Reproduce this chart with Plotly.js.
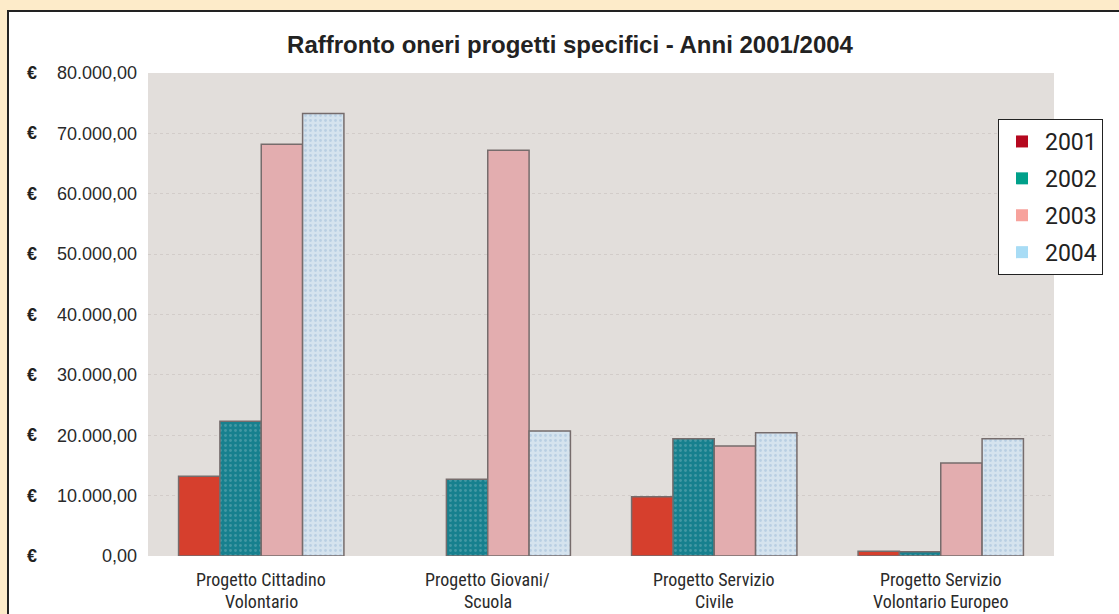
<!DOCTYPE html>
<html>
<head>
<meta charset="utf-8">
<script src="https://cdn.plot.ly/plotly-3.0.1.min.js"></script>
<style>
  html, body { margin: 0; padding: 0; background: #fdebc9; width: 1119px; height: 614px; overflow: hidden; }
  #chart { position: absolute; left: 7px; top: 10px; width: 1130px; height: 620px;
           border-left: 2px solid #222; border-top: 2px solid #222; background: #fff; overflow: hidden; }
</style>
</head>
<body>
<div id="chart"></div>
<script>
const categories = [
  "Progetto Cittadino<br>Volontario",
  "Progetto Giovani/<br>Scuola",
  "Progetto Servizio<br>Civile",
  "Progetto Servizio<br>Volontario Europeo"
];
const years = ["2001", "2002", "2003", "2004"];
const v2001 = [13200, null, 9800, 800];
const v2002 = [22300, 12700, 19400, 700];
const v2003 = [68200, 67200, 18200, 15400];
const v2004 = [73300, 20700, 20400, 19400];
const yTicks = [0, 10000, 20000, 30000, 40000, 50000, 60000, 70000, 80000];

const series = [v2001, v2002, v2003, v2004];
const barColors = ["#d63f2d", "#17808e", "#e3adaf", "#d5e3ee"];
const patternFg = [null, "#6fb0b8", null, "#9dbcd8"];
const legendColors = ["#b5081f", "#00a08a", "#f7a29c", "#a8dcf5"];

const traces = [];
series.forEach((vals, i) => {
  const m = { color: barColors[i], line: { color: "#766c6c", width: 1.5 } };
  if (patternFg[i]) {
    m.pattern = { shape: ".", fillmode: "overlay", fgcolor: patternFg[i], size: 5, solidity: 0.25 };
  }
  traces.push({
    type: "bar", x: categories, y: vals, name: years[i],
    marker: m, showlegend: false, hoverinfo: "x+y"
  });
});
// legend entries (legend swatch colours differ from bar fills in the original)
years.forEach((yr, i) => {
  traces.push({
    type: "bar", x: [categories[0]], y: [null], name: yr,
    xaxis: "x2", yaxis: "y2", legendgroup: "g" + i,
    marker: { color: legendColors[i], line: { width: 0 } }, showlegend: true
  });
});

const euroAnn = yTicks.map(v => ({
  xref: "paper", yref: "y", x: -0.128, y: v, text: "<b>€</b>", showarrow: false,
  xanchor: "center", yanchor: "middle",
  font: { family: "Liberation Sans, Arial, sans-serif", size: 18, color: "#222" }
}));
// category labels: two tightly spaced lines under each group
const catFont = { family: "Liberation Sans Narrow, Roboto Condensed, DejaVu Sans Condensed, sans-serif", size: 18, color: "#2a2a2a" };
const catAnn = [];
categories.forEach(c => {
  const lines = c.split("<br>");
  lines.forEach((ln, k) => {
    catAnn.push({
      xref: "x", yref: "y", x: c, y: 0, text: ln, showarrow: false,
      xanchor: "center", yanchor: "middle", yshift: -23 - 22 * k, font: catFont
    });
  });
});

const layout = {
  width: 1130, height: 620,
  margin: { l: 139, r: 85, t: 61, b: 76 },
  paper_bgcolor: "#ffffff",
  plot_bgcolor: "#e2dedb",
  separators: ",.",
  barmode: "group",
  bargap: 0.27,
  bargroupgap: 0,
  title: {
    text: "<b>Raffronto oneri progetti specifici - Anni 2001/2004</b>",
    x: (570 - 9) / 1130, xref: "container", xanchor: "center",
    y: 1 - 33 / 620, yref: "container", yanchor: "middle",
    font: { family: "Liberation Sans, Arial, sans-serif", size: 24, color: "#222" }
  },
  xaxis: {
    type: "category",
    showgrid: false, zeroline: false, showline: false, ticks: "",
    showticklabels: false
  },
  yaxis: {
    range: [0, 80000],
    tickvals: yTicks,
    tickformat: ",.2f",
    showgrid: true, gridcolor: "#d2ccc9", griddash: "dot", gridwidth: 1,
    zeroline: false, showline: false, ticks: "",
    ticklabelstandoff: 10,
    tickfont: { family: "Liberation Sans, Arial, sans-serif", size: 18, color: "#2a2a2a" }
  },
  xaxis2: { overlaying: "x", visible: false, type: "category" },
  yaxis2: { overlaying: "y", visible: false, range: [0, 1] },
  legend: {
    x: (998 - 148) / 906, xanchor: "left", y: (556 - 119) / 483, yanchor: "top",
    bgcolor: "#ffffff", bordercolor: "#222", borderwidth: 1,
    font: { family: "Roboto, Liberation Sans, sans-serif", size: 23, color: "#222" },
    tracegroupgap: 4, traceorder: "grouped", itemwidth: 36,
    entrywidth: 92, entrywidthmode: "pixels"
  },
  annotations: euroAnn.concat(catAnn)
};

Plotly.newPlot("chart", traces, layout, { displayModeBar: false, staticPlot: true });
</script>
</body>
</html>
